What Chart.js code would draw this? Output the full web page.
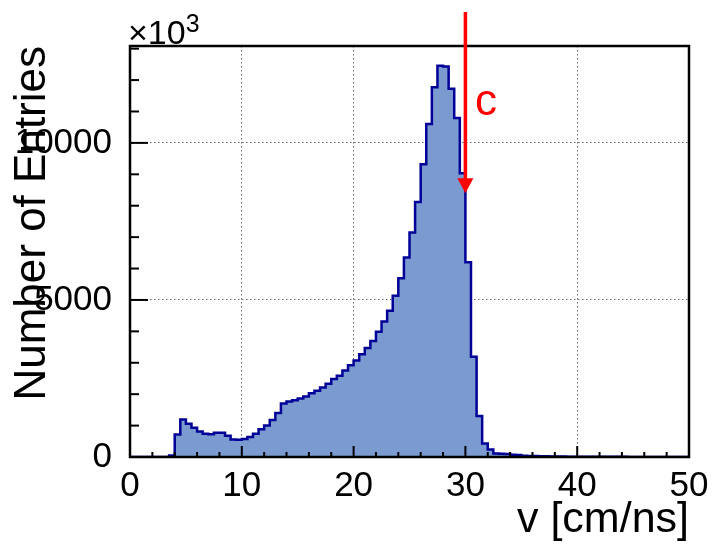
<!DOCTYPE html>
<html>
<head>
<meta charset="utf-8">
<script src="https://cdn.jsdelivr.net/npm/chart.js@4/dist/chart.umd.min.js"></script>
<style>
  html, body { margin: 0; padding: 0; background: #fff; }
</style>
</head>
<body>
<canvas id="chart" width="713" height="546"></canvas>
<script>
// v distribution, 100 bins of 0.5 cm/ns between 0 and 50
// counts are in units of 10^3 entries (as on the axis)
const binLow = 0;
const binWidth = 0.5;
const counts = [
  0, 0, 0, 0, 0, 0, 0, 45, 720, 1195,
  1055, 930, 815, 740, 725, 770, 770, 675, 555, 550,
  570, 640, 740, 880, 1000, 1180, 1400, 1700, 1770, 1810,
  1860, 1930, 2030, 2110, 2210, 2330, 2480, 2590, 2750, 2920,
  3070, 3270, 3470, 3690, 3990, 4310, 4660, 5130, 5690, 6350,
  7150, 8120, 9320, 10600, 11770, 12460, 12430, 11720, 10790, 9035,
  6200, 3195, 1306, 430, 240, 110, 100, 95, 70, 65,
  40, 35, 30, 25, 20, 18, 15, 12, 10, 9,
  8, 7, 6, 6, 5, 5, 4, 4, 4, 3,
  3, 3, 2, 2, 2, 2, 1, 1, 1, 1
];
const xTickLabels = [0, 10, 20, 30, 40, 50];
const xMinorTicks = [0, 2, 4, 6, 8, 10, 12, 14, 16, 18, 20, 22, 24, 26, 28, 30, 32, 34, 36, 38, 40, 42, 44, 46, 48, 50];
const yTickLabels = [0, 5000, 10000];
const yMinorTicks = [0, 1000, 2000, 3000, 4000, 5000, 6000, 7000, 8000, 9000, 10000, 11000, 12000, 13000];
const yMax = 13085;

// arrow marking c
const arrowX = 30;
const arrowTop = 14170;
const arrowTip = 8400;
const arrowLabel = 'c';
const arrowLabelPos = [30.85, 10890];

const FONT = '"Liberation Sans", Arial, Helvetica, sans-serif';

// histogram points at the low edge of each bin, plus the upper edge of the last one
const points = counts.map((c, i) => ({ x: binLow + i * binWidth, y: c }));
points.push({ x: binLow + counts.length * binWidth, y: counts[counts.length - 1] });

const frameAndMarks = {
  id: 'frameAndMarks',
  afterDatasetsDraw(chart) {
    const { ctx, chartArea: a, scales: { x, y } } = chart;
    ctx.save();
    ctx.strokeStyle = '#000';
    ctx.lineWidth = 2;

    // tick marks inside the frame, like ROOT
    x.ticks.forEach(t => {
      const px = x.getPixelForValue(t.value);
      const len = xTickLabels.includes(t.value) ? 11 : 5;
      ctx.beginPath();
      ctx.moveTo(px, a.bottom);
      ctx.lineTo(px, a.bottom - len);
      ctx.stroke();
    });
    y.ticks.forEach(t => {
      const py = y.getPixelForValue(t.value);
      const len = yTickLabels.includes(t.value) ? 18 : 9;
      ctx.beginPath();
      ctx.moveTo(a.left, py);
      ctx.lineTo(a.left + len, py);
      ctx.stroke();
    });

    // frame
    ctx.lineWidth = 2.5;
    ctx.strokeRect(a.left, a.top, a.right - a.left, a.bottom - a.top);

    // exponent
    ctx.fillStyle = '#000';
    ctx.textBaseline = 'alphabetic';
    ctx.font = '34px ' + FONT;
    ctx.fillText('\u00d710', a.left - 2, 44);
    const w = ctx.measureText('\u00d710').width;
    ctx.font = '25px ' + FONT;
    ctx.fillText('3', a.left - 2 + w, 32);

    // red arrow at c
    const ax = x.getPixelForValue(arrowX);
    const top = y.getPixelForValue(arrowTop);
    const tip = y.getPixelForValue(arrowTip);
    ctx.strokeStyle = '#ff0000';
    ctx.fillStyle = '#ff0000';
    ctx.lineWidth = 3.5;
    ctx.beginPath();
    ctx.moveTo(ax, top);
    ctx.lineTo(ax, tip - 12);
    ctx.stroke();
    ctx.beginPath();
    ctx.moveTo(ax - 8, tip - 15);
    ctx.lineTo(ax + 8, tip - 15);
    ctx.lineTo(ax, tip);
    ctx.closePath();
    ctx.fill();

    ctx.font = '44px ' + FONT;
    ctx.fillText(arrowLabel, x.getPixelForValue(arrowLabelPos[0]), y.getPixelForValue(arrowLabelPos[1]));
    ctx.restore();
  }
};

const gridColor = c => {
  const v = c.tick ? c.tick.value : null;
  return v !== null && v > 0 && (xTickLabels.includes(v) || yTickLabels.includes(v)) ? 'rgba(0,0,0,0.6)' : 'rgba(0,0,0,0)';
};

new Chart(document.getElementById('chart'), {
  type: 'line',
  data: {
    datasets: [{
      data: points,
      stepped: 'before',
      fill: 'origin',
      backgroundColor: 'rgb(122,154,208)',
      borderColor: 'rgb(0,0,150)',
      borderWidth: 2.5,
      pointRadius: 0,
      tension: 0
    }]
  },
  options: {
    responsive: false,
    animation: false,
    devicePixelRatio: 1,
    layout: { padding: { top: 46, right: 24, left: 0, bottom: 0 } },
    plugins: {
      legend: { display: false },
      tooltip: { enabled: false }
    },
    scales: {
      x: {
        type: 'linear',
        min: 0,
        max: 50,
        afterBuildTicks: s => { s.ticks = xMinorTicks.map(v => ({ value: v })); },
        afterFit: s => { s.height = 89; s.paddingLeft = 0; s.paddingRight = 0; },
        grid: { color: gridColor, drawTicks: false, lineWidth: 1 },
        border: { display: false, dash: [1.5, 2.5] },
        ticks: {
          autoSkip: false,
          maxRotation: 0,
          padding: 8,
          color: '#000',
          font: { size: 35, family: FONT },
          callback: v => xTickLabels.includes(v) ? String(v) : ''
        },
        title: {
          display: true,
          text: 'v [cm/ns]',
          align: 'end',
          color: '#000',
          font: { size: 43, family: FONT },
          padding: 0
        }
      },
      y: {
        min: 0,
        max: yMax,
        afterBuildTicks: s => { s.ticks = yMinorTicks.map(v => ({ value: v })); },
        afterFit: s => { s.width = 130; s.paddingTop = 0; s.paddingBottom = 0; },
        grid: { color: gridColor, drawTicks: false, lineWidth: 1 },
        border: { display: false, dash: [1.5, 2.5] },
        ticks: {
          autoSkip: false,
          padding: 18,
          color: '#000',
          font: { size: 35, family: FONT },
          callback: v => yTickLabels.includes(v) ? String(v) : ''
        },
        title: {
          display: true,
          text: 'Number of Entries',
          align: 'end',
          color: '#000',
          font: { size: 44, family: FONT },
          padding: { top: 6, bottom: 0 }
        }
      }
    }
  },
  plugins: [frameAndMarks]
});
</script>
</body>
</html>
